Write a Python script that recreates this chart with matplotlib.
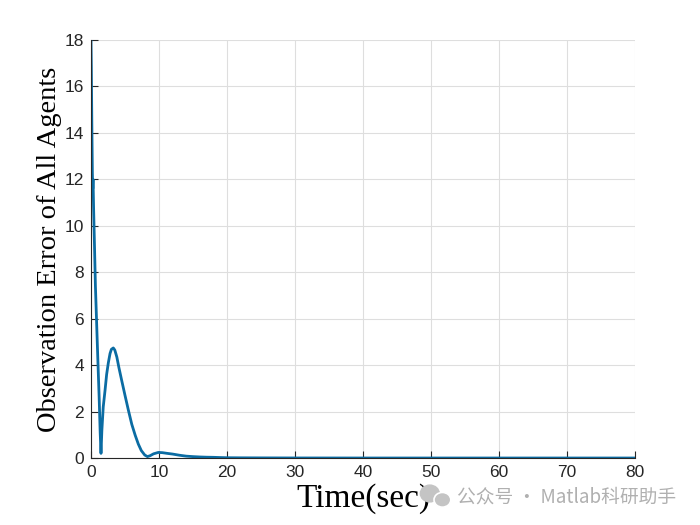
import matplotlib.pyplot as plt
from matplotlib.patches import Ellipse

# observation error
t = [0, 0.05, 0.12, 0.2, 0.25, 0.3, 0.38, 0.5, 0.65, 0.83, 1.0, 1.2, 1.35, 1.47,
     1.6, 1.8, 2.06, 2.3, 2.55, 2.8, 3.0, 3.28, 3.5, 3.8, 4.1, 4.5, 5.0, 5.49,
     6.0, 6.5, 6.96, 7.4, 7.9, 8.3, 8.7, 9.2, 9.9, 10.5, 11.2, 12, 13, 14, 15,
     16, 17, 18, 19, 20, 22, 25, 30, 40, 50, 60, 70, 80]
err = [18, 16.8, 14.5, 12.3, 11.6, 12.0, 10.8, 9.3, 7.4, 5.8, 4.3, 2.6, 1.1, 0.2,
       1.2, 2.2, 2.9, 3.6, 4.1, 4.5, 4.68, 4.74, 4.65, 4.35, 3.9, 3.36, 2.7, 2.07,
       1.45, 0.98, 0.6, 0.32, 0.13, 0.06, 0.1, 0.18, 0.24, 0.23, 0.2, 0.17, 0.12,
       0.08, 0.06, 0.045, 0.035, 0.03, 0.02, 0.012, 0.008, 0.005, 0.002, 0, 0, 0, 0, 0]

fig = plt.figure(figsize=(7, 5.25), dpi=100)
ax = fig.add_axes([0.13, 0.1276, 0.777, 0.7962])
ax.plot(t, err, color='#0b6ca3', linewidth=2)

ax.set_xlim(0, 80)
ax.set_ylim(0, 18)
ax.set_xticks(range(0, 81, 10))
ax.set_yticks(range(0, 19, 2))
ax.grid(True, color='#dedede', linewidth=0.8)
ax.set_axisbelow(True)
for s in ['top', 'right']:
    ax.spines[s].set_visible(False)
for s in ['left', 'bottom']:
    ax.spines[s].set_color('#262626')
ax.tick_params(direction='in', length=5, labelsize=12.5, colors='#262626',
               labelfontfamily='Liberation Sans', pad=5)

ax.set_xlabel('Time(sec)', family='Liberation Serif', fontsize=24, labelpad=2)
ax.set_ylabel('Observation Error of All Agents', family='Liberation Serif',
              fontsize=20.5, labelpad=2)

# watermark
fig.patches.append(Ellipse((0.614, 0.060), 0.027, 0.032, transform=fig.transFigure,
                           color='#c4c4c4'))
fig.patches.append(Ellipse((0.632, 0.048), 0.024, 0.028, transform=fig.transFigure,
                           color='#c4c4c4', ec='white', lw=1.2))
fig.text(0.653, 0.053, '公众号 · Matlab科研助手', color='#b0b0b0', fontsize=13.5,
         va='center', family=['Noto Sans CJK SC', 'DejaVu Sans'])

fig.savefig('out.png', dpi=100)
